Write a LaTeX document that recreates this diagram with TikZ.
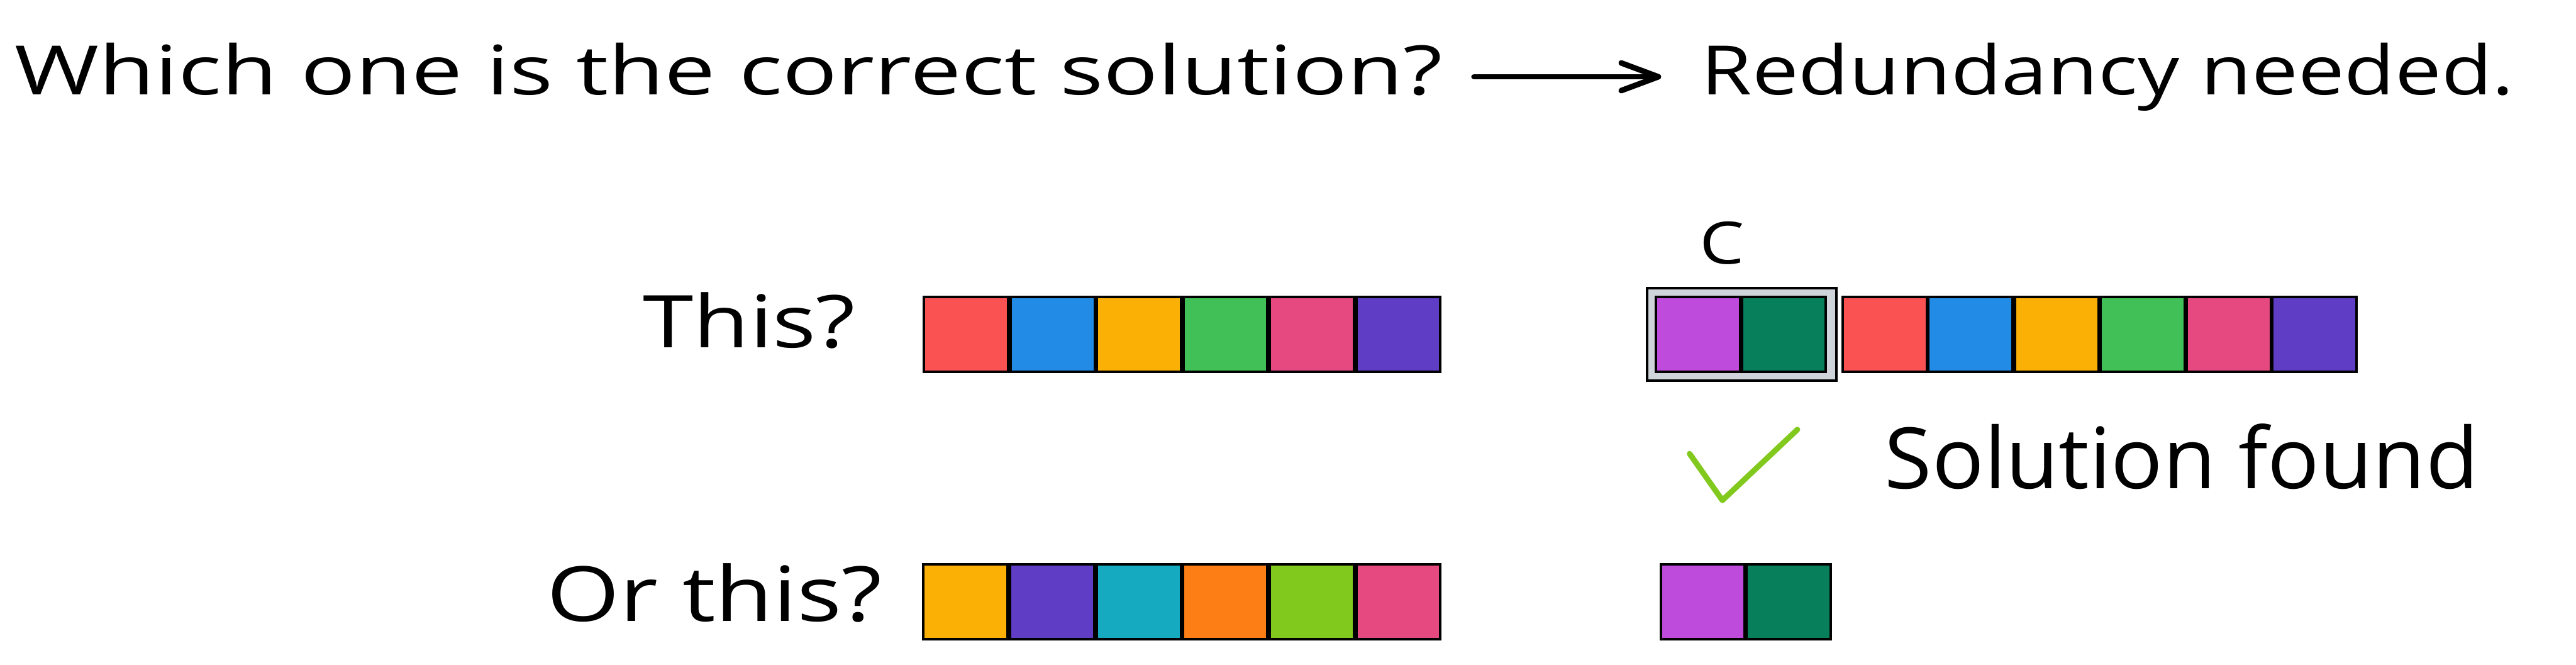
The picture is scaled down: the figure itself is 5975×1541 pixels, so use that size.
\documentclass[tikz,border=0pt]{standalone}
\usepackage{graphicx}
\usepackage{fontspec}
\setmainfont{Open Sans}
\usetikzlibrary{arrows.meta}
\definecolor{cred}{HTML}{FA5252}
\definecolor{cblue}{HTML}{228BE6}
\definecolor{cyellow}{HTML}{FAB005}
\definecolor{cgreen}{HTML}{40C057}
\definecolor{cpink}{HTML}{E64980}
\definecolor{cviolet}{HTML}{5F3DC4}
\definecolor{ccyan}{HTML}{15AABF}
\definecolor{corange}{HTML}{FD7E14}
\definecolor{clime}{HTML}{82C91E}
\definecolor{cgrape}{HTML}{BE4BDB}
\definecolor{cteal}{HTML}{087F5B}
\definecolor{cgray}{HTML}{CED4DA}
\newcommand{\fittext}[3]{\resizebox{#1}{#2}{#3}}
\begin{document}
\begin{tikzpicture}[x=0.01cm,y=-0.01cm,
  cell/.style={draw=black, line width=0.06cm, minimum width=1.95cm, minimum height=1.73cm, inner sep=0pt, anchor=north west},
  lbl/.style={inner sep=0pt, anchor=base west},
  arr/.style={line width=0.13cm, line cap=round, -{Straight Barb[length=0.86cm,width=0.64cm,line cap=round,line join=round]}}]
\useasboundingbox[fill=white] (0,0) rectangle (5975,1541);

% title
\node[lbl] (q) at (34,220) {\fittext{33.08cm}{1.2cm}{Which one is the correct solution?}};
\node[lbl] (r) at (3945,220) {\fittext{18.84cm}{1.2cm}{Redundancy needed.}};
\coordinate (ta) at (3419,178);
\coordinate (tb) at (3853,178);
\draw[arr] (ta) -- (tb);

% labels
\node[lbl] (this) at (1491,806) {\fittext{4.92cm}{1.28cm}{This?}};
\node[lbl] (orthis) at (1268,1440) {\fittext{7.76cm}{1.34cm}{Or this?}};
\node[lbl] (c) at (3941,612) {\fittext{1.04cm}{0.98cm}{C}};
\node[lbl] (sol) at (4371,1132) {\fittext{13.76cm}{1.5cm}{Solution found}};

% row 1
\node[cell, fill=cred]    (a1) at (2140,686) {};
\node[cell, fill=cblue]   (a2) at (2341,686) {};
\node[cell, fill=cyellow] (a3) at (2541,686) {};
\node[cell, fill=cgreen]  (a4) at (2742,686) {};
\node[cell, fill=cpink]   (a5) at (2942,686) {};
\node[cell, fill=cviolet] (a6) at (3143,686) {};

% row 2
\node[draw=black, fill=cgray, line width=0.06cm, minimum width=4.39cm, minimum height=2.15cm, inner sep=0pt, anchor=north west] (cbox) at (3817,665) {};
\node[cell, fill=cgrape]  (b1) at (3838,686) {};
\node[cell, fill=cteal]   (b2) at (4037,686) {};
\node[cell, fill=cred]    (b3) at (4271,686) {};
\node[cell, fill=cblue]   (b4) at (4470,686) {};
\node[cell, fill=cyellow] (b5) at (4670,686) {};
\node[cell, fill=cgreen]  (b6) at (4869,686) {};
\node[cell, fill=cpink]   (b7) at (5069,686) {};
\node[cell, fill=cviolet] (b8) at (5268,686) {};

% check mark
\draw[clime, line width=0.13cm, line cap=round, line join=round] (3919,1052) -- (3995,1160) -- (4169,996);

% row 3
\node[cell, fill=cyellow] (d1) at (2139,1306) {};
\node[cell, fill=cviolet] (d2) at (2340,1306) {};
\node[cell, fill=ccyan]   (d3) at (2541,1306) {};
\node[cell, fill=corange] (d4) at (2741,1306) {};
\node[cell, fill=clime]   (d5) at (2942,1306) {};
\node[cell, fill=cpink]   (d6) at (3143,1306) {};
\node[cell, fill=cgrape]  (e1) at (3849,1306) {};
\node[cell, fill=cteal]   (e2) at (4048,1306) {};
\end{tikzpicture}
\end{document}
